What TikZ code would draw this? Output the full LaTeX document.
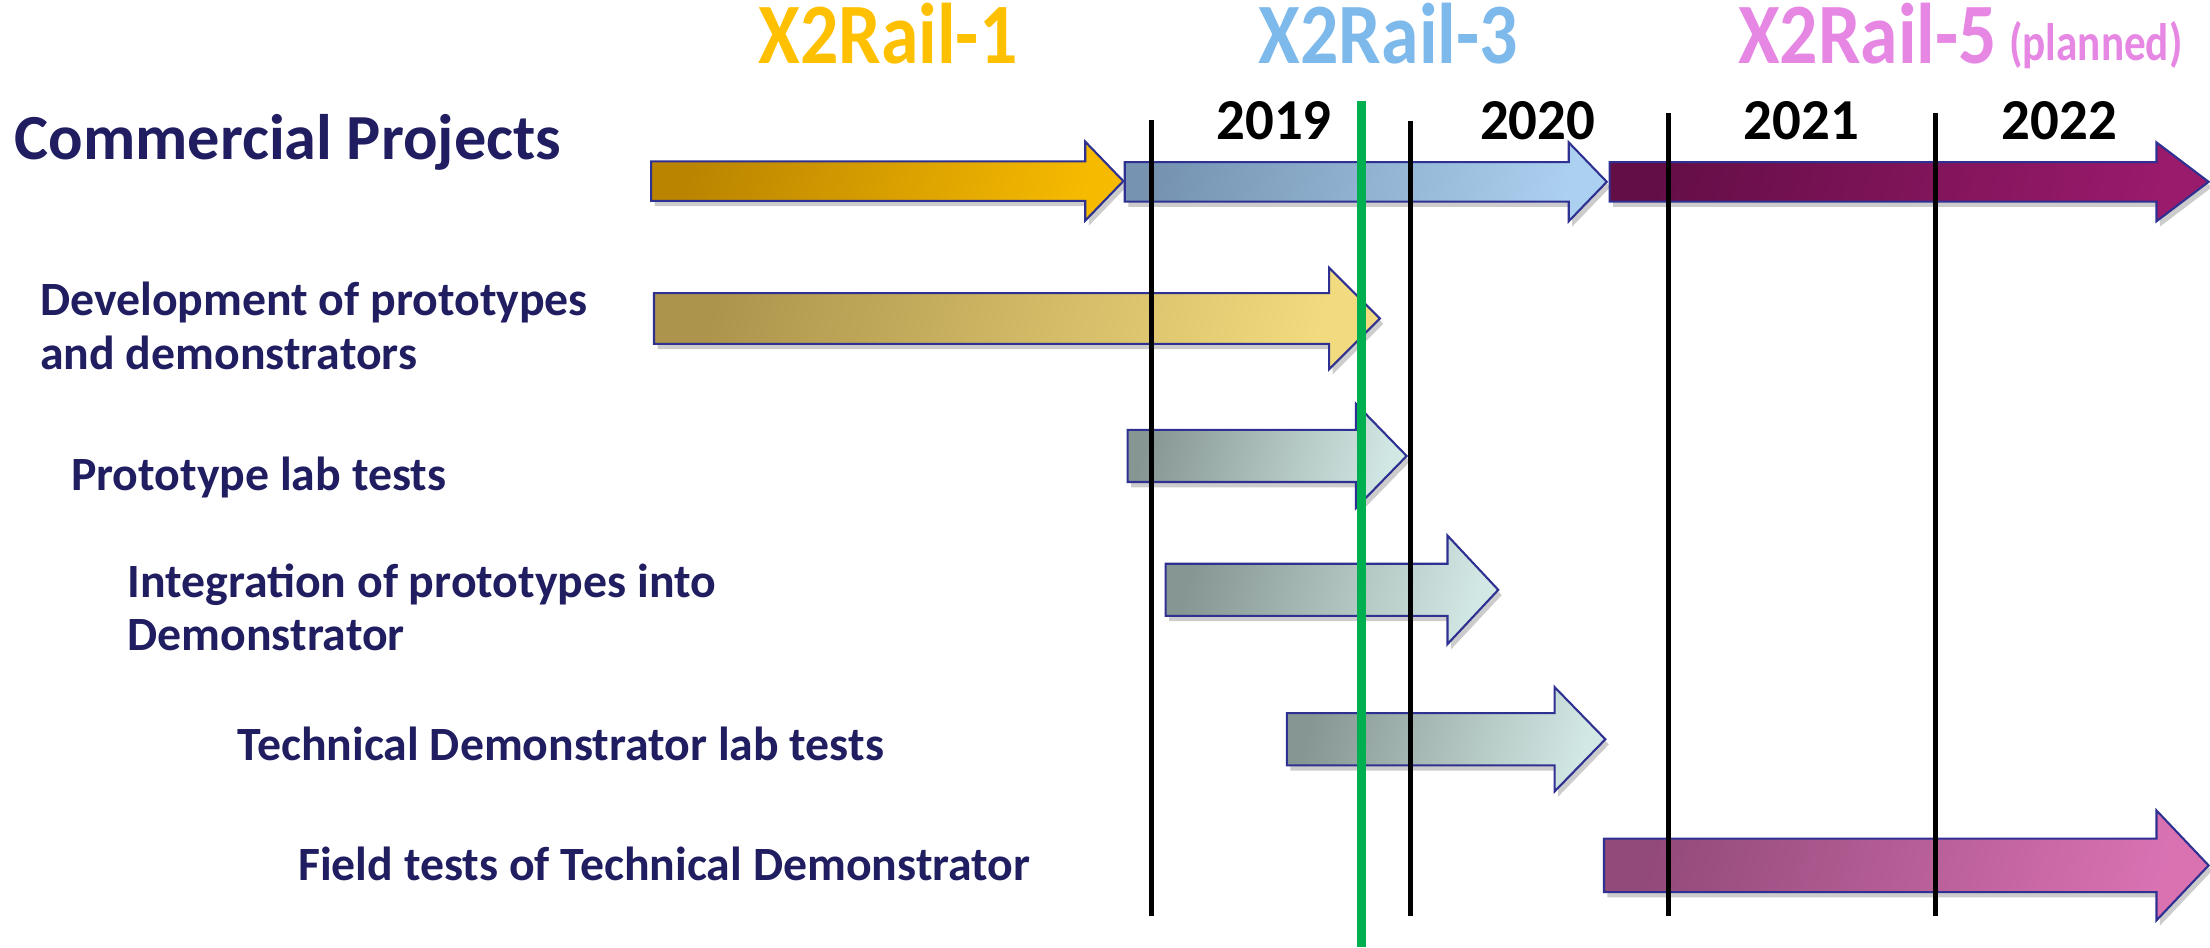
\documentclass[tikz,border=0pt]{standalone}
\usepackage{fontspec}
\setmainfont{Carlito}
\usetikzlibrary{shadows}

\definecolor{navy}{RGB}{32,30,96}
\definecolor{outl}{RGB}{46,49,146}
\definecolor{railone}{RGB}{255,192,0}
\definecolor{railthree}{RGB}{125,185,235}
\definecolor{railfive}{RGB}{230,135,228}
\definecolor{nowgreen}{RGB}{0,176,80}
\definecolor{goldA}{RGB}{186,132,0}
\definecolor{goldB}{RGB}{246,186,0}
\definecolor{blueA}{RGB}{118,148,178}
\definecolor{blueB}{RGB}{172,208,240}
\definecolor{plumA}{RGB}{100,14,70}
\definecolor{plumB}{RGB}{154,26,108}
\definecolor{tanA}{RGB}{172,148,76}
\definecolor{tanB}{RGB}{242,218,126}
\definecolor{tealA}{RGB}{134,150,146}
\definecolor{tealB}{RGB}{210,232,228}
\definecolor{pinkA}{RGB}{146,74,122}
\definecolor{pinkB}{RGB}{218,114,178}

\newcommand{\narrowtext}[2][0.88]{\scalebox{#1}[1]{#2}}

\tikzset{
  fatarrow/.style={draw=outl, line width=0.6pt, line join=miter,
    drop shadow={shadow xshift=1pt, shadow yshift=-1.5pt, opacity=0.2, fill=black}},
  goldfill/.style={left color=goldA, right color=goldB, shading angle=75},
  bluefill/.style={left color=blueA, right color=blueB, shading angle=75},
  plumfill/.style={left color=plumA, right color=plumB, shading angle=75},
  tanfill/.style={left color=tanA, right color=tanB, shading angle=75},
  tealfill/.style={left color=tealA, right color=tealB, shading angle=75},
  pinkfill/.style={left color=pinkA, right color=pinkB, shading angle=75},
  yearline/.style={black, line width=1.5pt},
  rowlabel/.style={text=navy, inner sep=0pt, anchor=west, align=left,
    font=\bfseries\fontsize{13.6}{15.3}\selectfont},
  phase/.style={inner sep=0pt, anchor=base, font=\bfseries\fontsize{24.5}{27}\selectfont},
  year/.style={inner sep=0pt, anchor=base, font=\bfseries\fontsize{16.5}{19}\selectfont}
}

\begin{document}
\begin{tikzpicture}[x=0.0140944cm, y=-0.0140944cm]
    \useasboundingbox (0,0) rectangle (1568,672);

    % phase titles
    \node[phase, text=railone] (xone) at (630,45) {\narrowtext{X2Rail-1}};
    \node[phase, text=railthree] (xthree) at (985,45) {\narrowtext{X2Rail-3}};
    \node[phase, text=railfive] (xfive) at (1325,45) {\narrowtext{X2Rail-5}};
    \node[inner sep=0pt, anchor=base west, text=railfive,
      font=\bfseries\fontsize{15}{17}\selectfont] (planned) at (1425,43) {\narrowtext[0.82]{(planned)}};

    % years
    \foreach \x/\yr in {904/2019, 1091/2020, 1278/2021, 1461/2022}
        \node[year] (y\yr) at (\x,99) {\narrowtext[0.98]{\yr}};

    % row labels
    \node[inner sep=0pt, anchor=base west, text=navy,
      font=\bfseries\fontsize{18.3}{21}\selectfont] (commercial) at (10,113) {Commercial Projects};
    \node[rowlabel] (devel) at (28,231) {Development of prototypes\\and demonstrators};
    \node[rowlabel] (labtest) at (50,339) {Prototype lab tests};
    \node[rowlabel] (integ) at (90,431) {Integration of prototypes into\\Demonstrator};
    \node[rowlabel] (techlab) at (168,528) {Technical Demonstrator lab tests};
    \node[rowlabel] (field) at (211,613) {Field tests of Technical Demonstrator};

    % timeline arrows: left / head start / tip / centre / half body / half head
    \foreach \xa/\xb/\xc/\ym/\hb/\hh/\sty in {
        462/770/797/128.5/14/28/goldfill, 798/1113/1140/129/14/28/bluefill,
        1142/1530/1567/129/14/28/plumfill, 464/943/979/226/18/36/tanfill,
        800/962/998/323.5/18.5/37/tealfill, 827/1027/1063/418.5/18.5/38.5/tealfill,
        913/1103/1139/524.5/18.5/37/tealfill, 1138/1530/1567/614/19/39/pinkfill} {
        \path[fatarrow, \sty] (\xa,{\ym-\hb}) -- (\xb,{\ym-\hb}) -- (\xb,{\ym-\hh})
            -- (\xc,\ym) -- (\xb,{\ym+\hh}) -- (\xb,{\ym+\hb}) -- (\xa,{\ym+\hb}) -- cycle;
    }

    % year boundaries and today
    \foreach \x/\yt in {817/85, 1001/86, 1184/80, 1373/80}
        \draw[yearline] (\x,\yt) -- (\x,650);
    \draw[nowgreen, line width=2.3pt] (966,72) -- (966,672);
\end{tikzpicture}
\end{document}
